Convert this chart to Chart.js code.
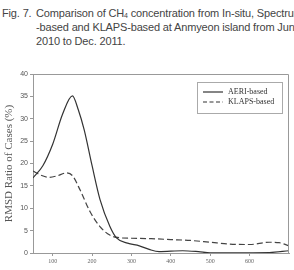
<!DOCTYPE html>
<html>
<head>
<meta charset="utf-8">
<script src="https://cdn.jsdelivr.net/npm/chart.js@4"></script>
<style>
  html, body { margin: 0; padding: 0; background: #fff; }
  #wrap { position: relative; width: 294px; height: 270px; overflow: hidden; }
  #cap { position: absolute; left: 2px; top: 6px; font-family: "Liberation Sans", Arial, sans-serif;
         font-size: 11px; line-height: 14px; color: #444; white-space: nowrap; letter-spacing: -0.15px; }
  #cap div { height: 14px; }
  #cap .ind { padding-left: 34px; }
  #cap .lab { display: inline-block; width: 34px; }
  #cap sub { font-size: 7px; line-height: 0; vertical-align: -1px; }
  canvas { position: absolute; left: 0; top: 0; }
</style>
</head>
<body>
<div id="wrap">
  <div id="cap">
    <div><span class="lab">Fig. 7.</span>Comparison of CH<sub>4</sub> concentration from In-situ, Spectrum</div>
    <div class="ind">-based and KLAPS-based at Anmyeon island from Jun</div>
    <div class="ind">2010 to Dec. 2011.</div>
  </div>
  <canvas id="chart" width="294" height="270"></canvas>
</div>
<script>
// data
const aeriX = [50, 75, 100, 125, 150, 165, 180, 200, 220, 245, 262, 290, 320, 345, 370, 430, 470, 500, 550, 650, 700];
const aeriY = [16.8, 19.5, 24.3, 31, 35.1, 32, 27.5, 19.5, 12, 6, 3.4, 2.2, 1.6, 0.8, 0.3, 0.5, 0.3, 0.05, 0.05, 0.1, 0.5];
const klapsX = [50, 70, 90, 110, 135, 150, 170, 195, 220, 245, 270, 300, 350, 400, 450, 500, 550, 600, 650, 675, 700];
const klapsY = [18.3, 17.4, 16.9, 17.2, 17.9, 17.3, 14, 9.2, 5.9, 4.0, 3.4, 3.3, 3.2, 3.0, 2.8, 2.4, 2.0, 1.9, 2.4, 2.3, 1.6];
const xTicks = [100, 200, 300, 400, 500, 600];
const yTicks = [0, 5, 10, 15, 20, 25, 30, 35, 40];
const seriesNames = ["AERI-based", "KLAPS-based"];

const toPts = (xs, ys) => xs.map((x, i) => ({ x: x, y: ys[i] }));

// box on top/right + legend inside plot
const boxPlugin = {
  id: "boxLegend",
  afterDraw(chart) {
    const { ctx, chartArea: a } = chart;
    ctx.save();
    ctx.strokeStyle = "#999";
    ctx.lineWidth = 1;
    ctx.beginPath();
    ctx.moveTo(a.left, a.top + 0.5);
    ctx.lineTo(a.right - 0.5, a.top + 0.5);
    ctx.lineTo(a.right - 0.5, a.bottom);
    ctx.stroke();

    // legend
    ctx.strokeStyle = "#aaa";
    ctx.strokeRect(197.5, 82.5, 85, 31);
    ctx.font = "8px 'Liberation Serif', serif";
    ctx.fillStyle = "#333";
    ctx.textBaseline = "middle";
    ctx.strokeStyle = "#333";
    ctx.lineWidth = 1.2;
    ctx.beginPath();
    ctx.moveTo(203, 92); ctx.lineTo(223, 92);
    ctx.stroke();
    ctx.setLineDash([4, 2.5]);
    ctx.beginPath();
    ctx.moveTo(203, 102); ctx.lineTo(223, 102);
    ctx.stroke();
    ctx.setLineDash([]);
    ctx.fillText(seriesNames[0], 228, 92);
    ctx.fillText(seriesNames[1], 228, 102);
    ctx.restore();
  }
};

new Chart(document.getElementById("chart"), {
  type: "line",
  data: {
    datasets: [
      {
        label: seriesNames[0],
        data: toPts(aeriX, aeriY),
        borderColor: "#333",
        borderWidth: 1.2,
        pointRadius: 0,
        cubicInterpolationMode: "monotone",
        fill: false
      },
      {
        label: seriesNames[1],
        data: toPts(klapsX, klapsY),
        borderColor: "#444",
        borderWidth: 1.2,
        borderDash: [6, 3],
        pointRadius: 0,
        cubicInterpolationMode: "monotone",
        fill: false
      }
    ]
  },
  options: {
    responsive: false,
    animation: false,
    layout: { padding: { left: 0, top: 74, right: 5, bottom: 0 } },
    plugins: { legend: { display: false }, tooltip: { enabled: false } },
    scales: {
      x: {
        type: "linear",
        min: 50,
        max: 700,
        afterBuildTicks: (s) => { s.ticks = xTicks.map(v => ({ value: v })); },
        afterFit: (s) => { s.height = 17; },
        grid: { display: true, drawOnChartArea: false, drawTicks: true, tickLength: 3, color: "#999" },
        border: { color: "#999" },
        ticks: { color: "#666", font: { family: "Liberation Serif", size: 6 }, padding: 2, maxRotation: 0 }
      },
      y: {
        min: 0,
        max: 40,
        afterBuildTicks: (s) => { s.ticks = yTicks.map(v => ({ value: v })); },
        afterFit: (s) => { s.width = 33; },
        grid: { display: true, drawOnChartArea: false, drawTicks: true, tickLength: 3, color: "#999" },
        border: { color: "#999" },
        ticks: { color: "#555", font: { family: "Liberation Sans", size: 7 }, padding: 2 },
        title: {
          display: true,
          text: "RMSD Ratio of Cases (%)",
          color: "#555",
          font: { family: "Liberation Serif", size: 11 },
          padding: { top: 3, bottom: 0 }
        }
      }
    }
  },
  plugins: [boxPlugin]
});
</script>
</body>
</html>
